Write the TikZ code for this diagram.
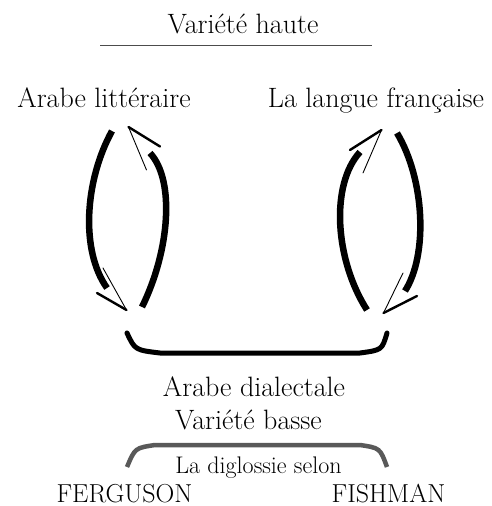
\documentclass[tikz,border=0pt]{standalone}
\usepackage{fontspec}
\begin{document}
\begin{tikzpicture}[x=1pt,y=-1pt,
  lbl/.style={anchor=base,inner sep=0pt,font=\fontsize{28}{32}\selectfont},
  small/.style={anchor=base,inner sep=0pt,font=\fontsize{24}{28}\selectfont},
  caps/.style={anchor=base,inner sep=0pt,font=\fontsize{26}{30}\selectfont},
  brush/.style={line width=6.5pt,black},
  barbA/.style={line width=2.4pt,black,line cap=round},
  barbB/.style={line width=0.9pt,black,line cap=round},
]
\useasboundingbox (0,0) rectangle (491,506);
% titles
\node[lbl] (haute) at (243,34) {Variété haute};
\draw[line width=1pt,black!70] (100,45) coordinate (hl) -- (372,45) coordinate (hr);
\node[lbl] (ar) at (104,107) {Arabe littéraire};
\node[lbl] (fr) at (376,107) {La langue française};
% left pair
\draw[brush] (112,131) .. controls (85,180) and (80,250) .. (107,288);
\coordinate (t1) at (126.5,310);
\draw[barbA] (t1) -- (97,293);
\draw[barbB] (t1) -- (103,268);
\draw[brush] (142,307) .. controls (170,250) and (175,180) .. (150,153);
\coordinate (t2) at (128.5,127);
\draw[barbA] (t2) -- (160,146.5);
\draw[barbB] (t2) -- (146.5,170);
% right pair
\draw[brush] (367,310) .. controls (335,260) and (330,185) .. (360,152);
\coordinate (t3) at (381.5,130);
\draw[barbA] (t3) -- (350,150);
\draw[barbB] (t3) -- (363,173);
\draw[brush] (397,133) .. controls (425,180) and (428,255) .. (405,291);
\coordinate (t4) at (383.5,313);
\draw[barbA] (t4) -- (417,296);
\draw[barbB] (t4) -- (403,273);
% bracket
\draw[line width=5pt,black,line cap=round] (127,333) .. controls (135,350) .. (160,353) -- (360,353) .. controls (382,350) .. (387,333);
\node[lbl] (dial) at (254,396) {Arabe dialectale};
\node[lbl] (basse) at (248.5,429) {Variété basse};
% gray arc
\draw[line width=4.5pt,black!65] (127,467) .. controls (135,448) .. (155,445) -- (360,445) .. controls (380,448) .. (387,467);
\node[small] (selon) at (258.5,473) {La diglossie selon};
\node[caps] (ferg) at (124.5,502) {FERGUSON};
\node[caps] (fish) at (388.5,502) {FISHMAN};
\end{tikzpicture}
\end{document}
